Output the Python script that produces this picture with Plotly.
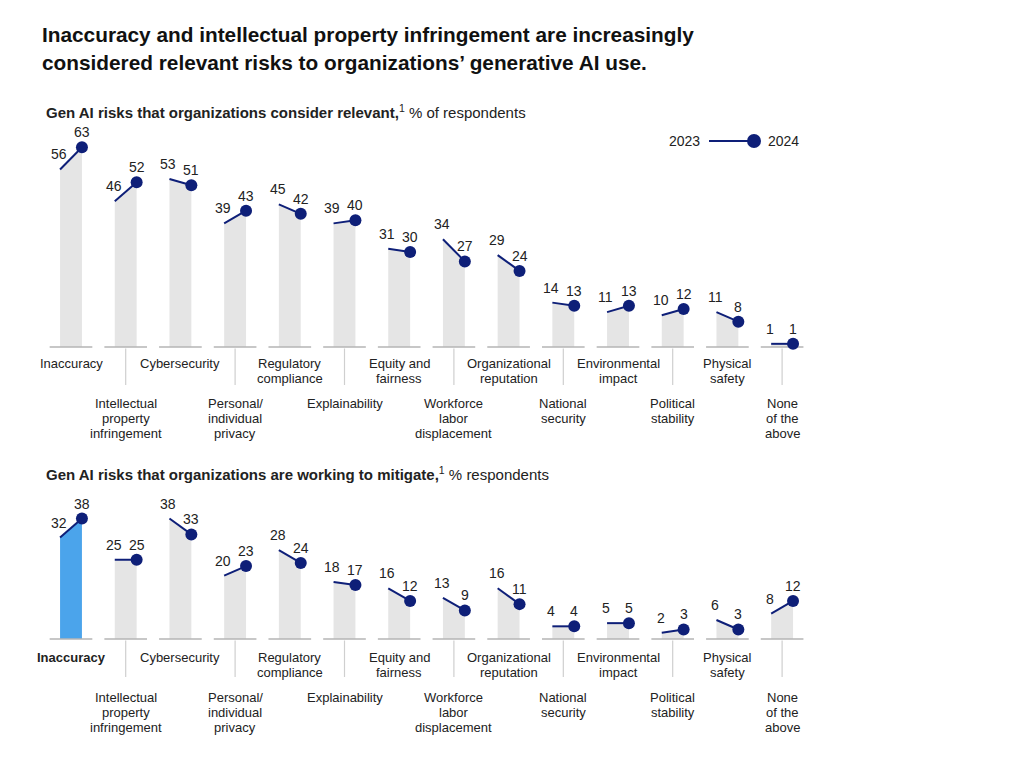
import plotly.graph_objects as go

categories = [
    "Inaccuracy", "Intellectual\nproperty\ninfringement", "Cybersecurity",
    "Personal/\nindividual\nprivacy", "Regulatory\ncompliance", "Explainability",
    "Equity and\nfairness", "Workforce\nlabor\ndisplacement", "Organizational\nreputation",
    "National\nsecurity", "Environmental\nimpact", "Political\nstability",
    "Physical\nsafety", "None\nof the\nabove",
]
relevant_2023 = [56, 46, 53, 39, 45, 39, 31, 34, 29, 14, 11, 10, 11, 1]
relevant_2024 = [63, 52, 51, 43, 42, 40, 30, 27, 24, 13, 13, 12, 8, 1]
mitigate_2023 = [32, 25, 38, 20, 28, 18, 16, 13, 16, 4, 5, 2, 6, 8]
mitigate_2024 = [38, 25, 33, 23, 24, 17, 12, 9, 11, 4, 5, 3, 3, 12]

W, H = 1024, 764
X0, DX = 71.0, 54.7          # pixel center of first category, spacing
SCALE = 3.17                 # px per percentage point
BASE1, BASE2 = 347.0, 639.0  # baselines (px from top)

NAVY = "#0e1f78"
GRAY_BAR = "#e5e5e5"
BLUE_BAR = "#4ba4eb"
TXT = "#222222"
FONT = "Liberation Sans"

def xr(px):
    return (px - X0) / DX

def py_paper(py):
    return 1 - py / H

fig = go.Figure()
annotations = []
shapes = []

def panel(v23, v24, yaxis, base, highlight, label_top):
    yref = "y" if yaxis == "y" else "y2"
    n = len(categories)
    for i in range(n):
        a, b = v23[i], v24[i]
        hw = 0.2
        color = BLUE_BAR if (highlight and i == 0) else GRAY_BAR
        fig.add_trace(go.Scatter(
            x=[i - hw, i - hw, i + hw, i + hw, i - hw],
            y=[0, a, b, 0, 0], fill="toself", fillcolor=color,
            line=dict(width=0), mode="lines", yaxis=yaxis, hoverinfo="skip",
            showlegend=False))
        fig.add_trace(go.Scatter(
            x=[i - 0.39, i + 0.39], y=[0, 0], mode="lines",
            line=dict(color="#b5b5b5", width=1.5), yaxis=yaxis,
            hoverinfo="skip", showlegend=False))
        fig.add_trace(go.Scatter(
            x=[i - hw, i + hw], y=[a, b], mode="lines",
            line=dict(color=NAVY, width=2), yaxis=yaxis,
            hoverinfo="skip", showlegend=False))
        fig.add_trace(go.Scatter(
            x=[i + hw], y=[b], mode="markers",
            marker=dict(color=NAVY, size=12), yaxis=yaxis,
            hoverinfo="skip", showlegend=False))
        annotations.append(dict(x=i - hw - 0.02, y=a + 15 / SCALE, xref="x", yref=yref,
                                xanchor="center", yanchor="middle",
                                text=str(a), showarrow=False,
                                font=dict(size=14, color=TXT, family=FONT)))
        annotations.append(dict(x=i + hw, y=b + 15 / SCALE, xref="x", yref=yref,
                                xanchor="center", yanchor="middle",
                                text=str(b), showarrow=False,
                                font=dict(size=14, color=TXT, family=FONT)))
        lines = categories[i].split("\n")
        first = label_top if i % 2 == 0 else label_top + 40
        for k, ln in enumerate(lines):
            py = first + 15 * k
            txt = "<b>" + ln + "</b>" if (highlight and i == 0) else ln
            annotations.append(dict(x=i, y=py_paper(py), xref="x", yref="paper",
                                    xanchor="center", yanchor="middle",
                                    text=txt, showarrow=False,
                                    font=dict(size=13, color=TXT, family=FONT)))
        if i % 2 == 1:
            shapes.append(dict(type="line", xref="x", yref=yref, x0=i, x1=i,
                               y0=-1.5 / SCALE, y1=-38 / SCALE,
                               line=dict(color="#cfcfcf", width=1.2)))

panel(relevant_2023, relevant_2024, "y", BASE1, False, 363)
panel(mitigate_2023, mitigate_2024, "y2", BASE2, True, 657)

# Title
for txt, py in [("Inaccuracy and intellectual property infringement are increasingly", 35),
                ("considered relevant risks to organizations\u2019 generative AI use.", 62)]:
    annotations.append(dict(x=40 / W, y=py_paper(py), xref="paper", yref="paper",
                            xanchor="left", yanchor="middle",
                            text="<b>" + txt + "</b>", showarrow=False,
                            font=dict(size=20.8, color="#111111", family=FONT)))

# Subtitles
for bold, rest, py in [("Gen AI risks that organizations consider relevant,", " % of respondents", 111),
                       ("Gen AI risks that organizations are working to mitigate,", " % respondents", 473)]:
    annotations.append(dict(x=44 / W, y=py_paper(py), xref="paper", yref="paper",
                            xanchor="left", yanchor="middle",
                            text="<b>" + bold + "</b><sup>1</sup>" + rest,
                            showarrow=False,
                            font=dict(size=15, color="#222222", family=FONT)))

# Legend
annotations.append(dict(x=702 / W, y=py_paper(141), xref="paper", yref="paper",
                        xanchor="right", yanchor="middle",
                        text="2023", showarrow=False, font=dict(size=14, color=TXT, family=FONT)))
annotations.append(dict(x=766 / W, y=py_paper(141), xref="paper", yref="paper",
                        xanchor="left", yanchor="middle",
                        text="2024", showarrow=False, font=dict(size=14, color=TXT, family=FONT)))
fig.add_trace(go.Scatter(x=[xr(709), xr(754)], y=[(BASE1 - 141) / SCALE] * 2, mode="lines",
                         line=dict(color=NAVY, width=2), yaxis="y", hoverinfo="skip", showlegend=False))
fig.add_trace(go.Scatter(x=[xr(754)], y=[(BASE1 - 141) / SCALE], mode="markers",
                         marker=dict(color=NAVY, size=14), yaxis="y", hoverinfo="skip", showlegend=False))

fig.update_layout(
    width=W, height=H, margin=dict(l=0, r=0, t=0, b=0),
    paper_bgcolor="white", plot_bgcolor="white",
    showlegend=False,
    xaxis=dict(range=[xr(0), xr(W)], visible=False, fixedrange=True),
    yaxis=dict(range=[(BASE1 - H) / SCALE, BASE1 / SCALE], visible=False, domain=[0, 1]),
    yaxis2=dict(range=[(BASE2 - H) / SCALE, BASE2 / SCALE], visible=False,
                overlaying="y", domain=[0, 1]),
    annotations=annotations, shapes=shapes,
)

fig.write_html("out.html")
